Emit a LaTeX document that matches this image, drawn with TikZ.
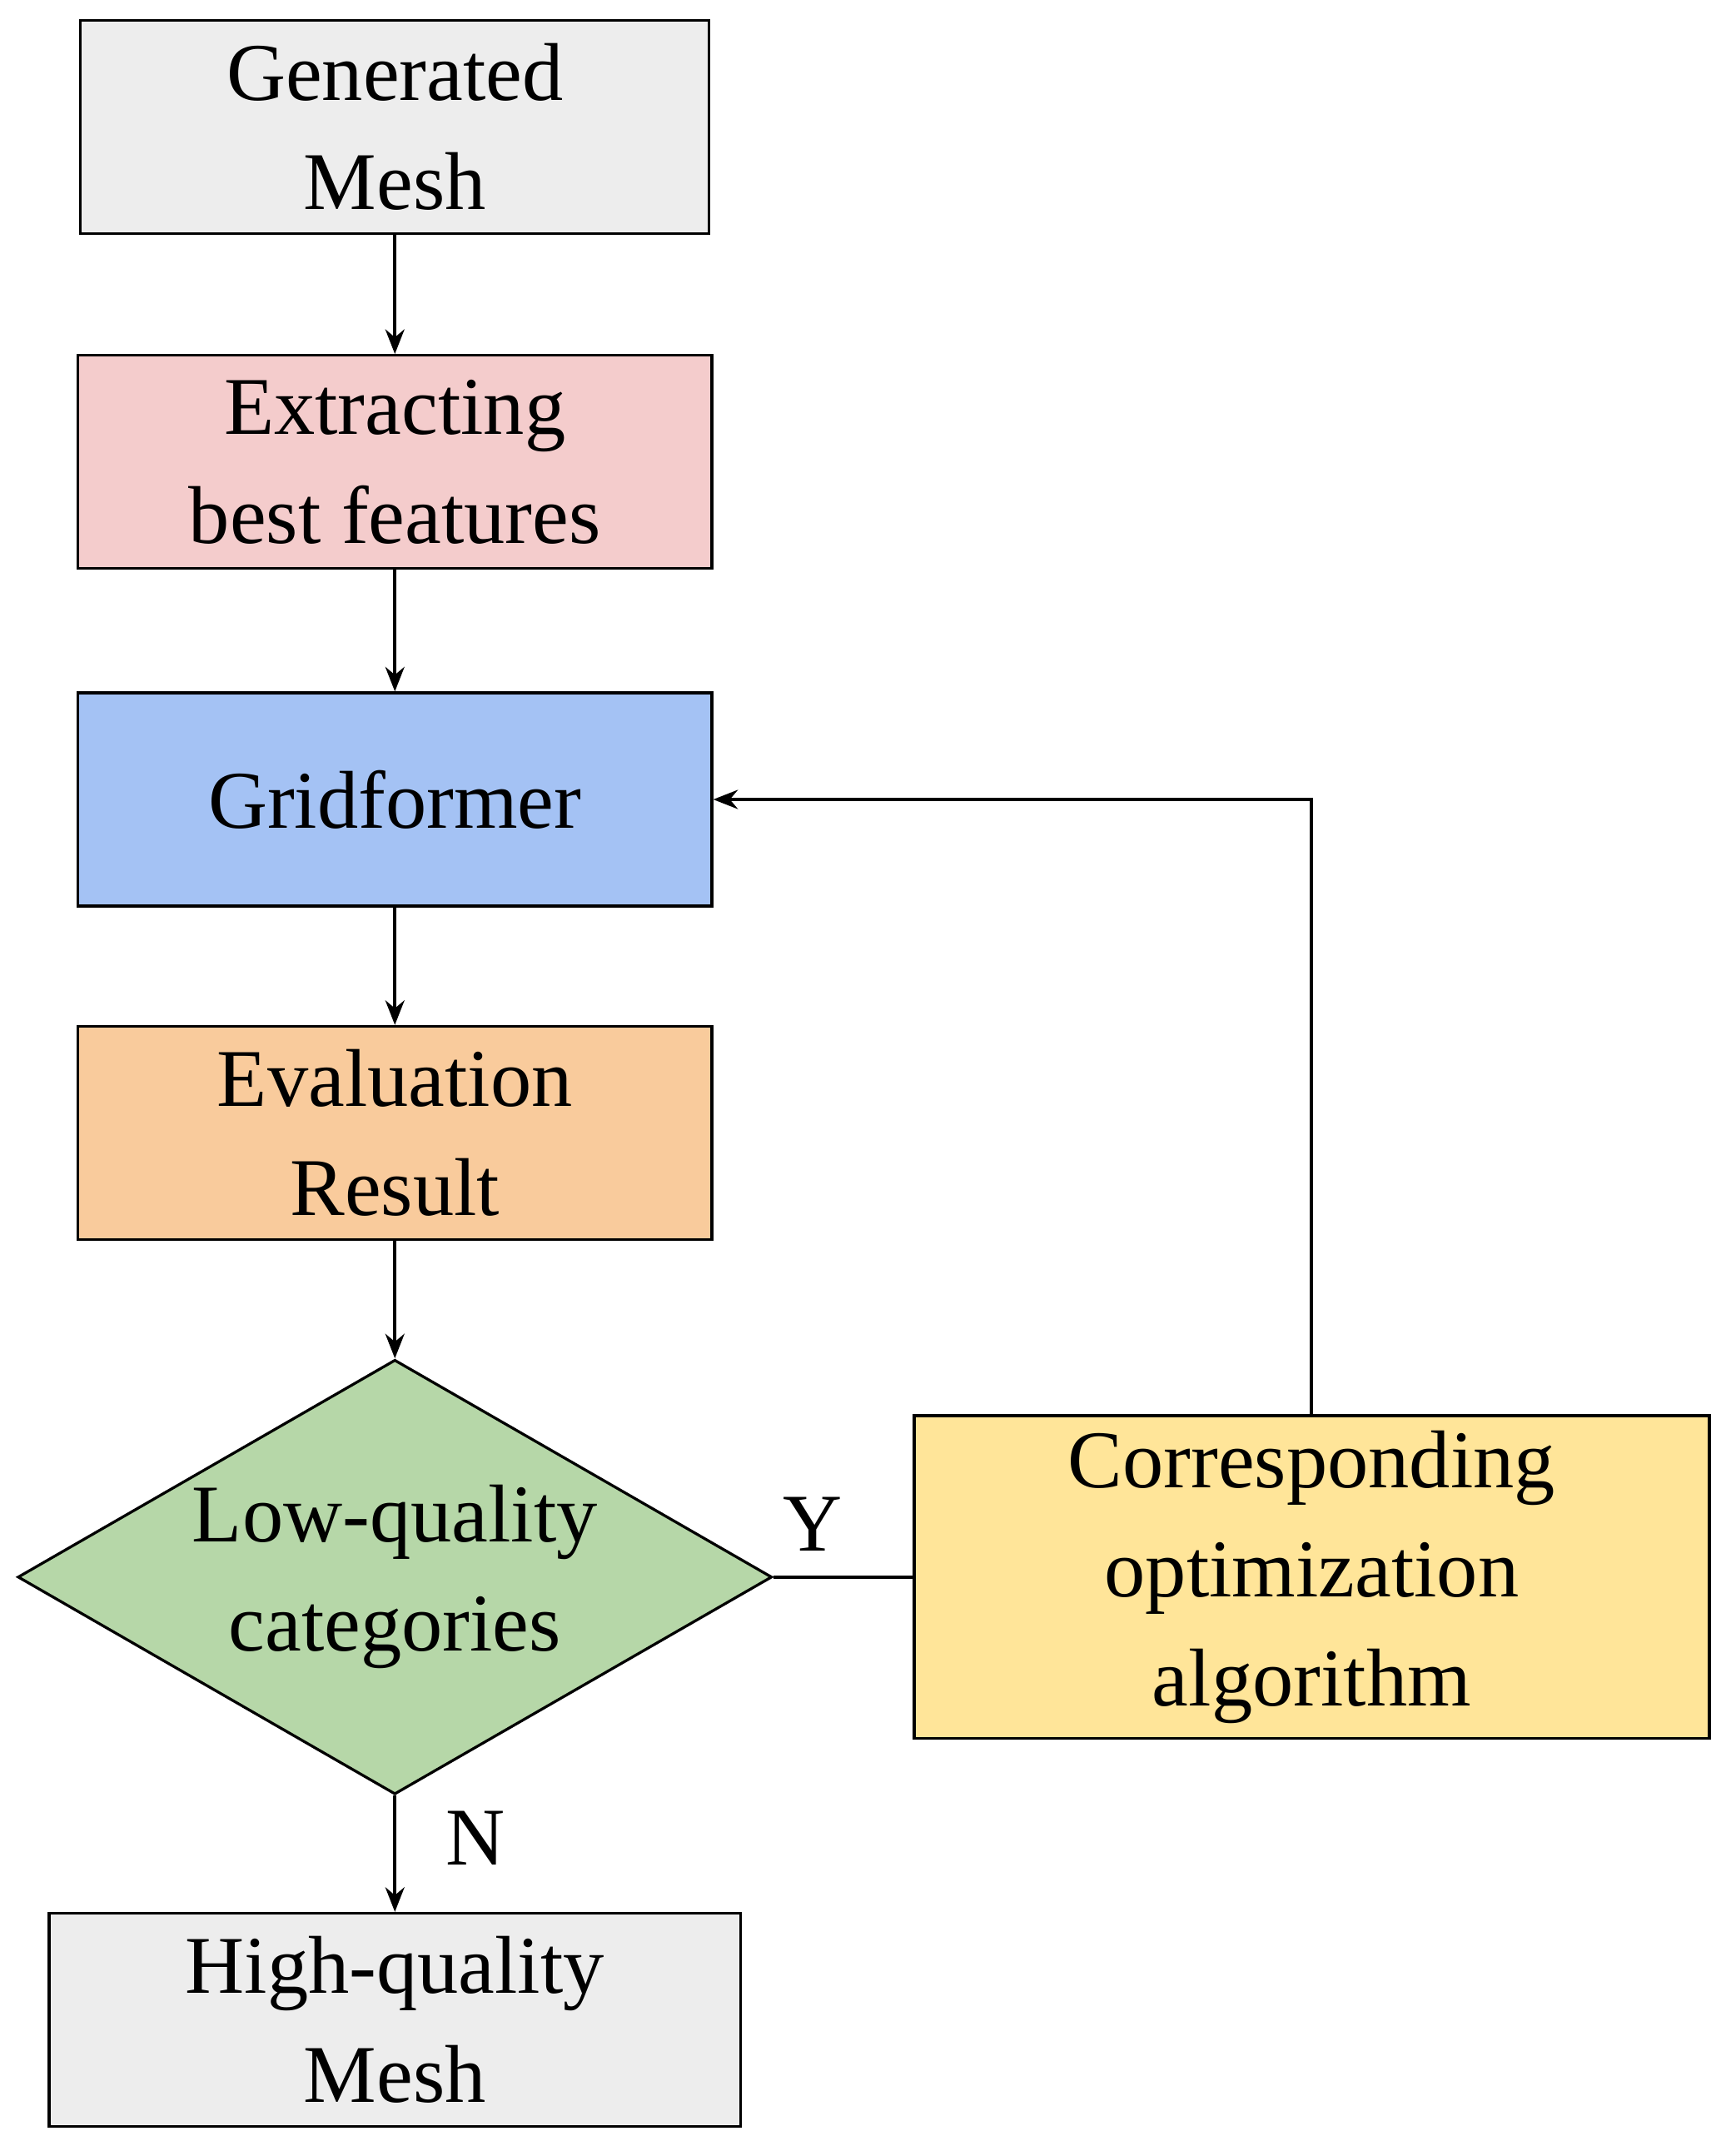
\documentclass[tikz,border=0pt]{standalone}
\usepackage{fontspec}
\setmainfont{Liberation Serif}
\usetikzlibrary{arrows.meta,shapes.geometric}
\begin{document}
\begin{tikzpicture}[x=0.5pt,y=-0.5pt,
 box/.style={draw,line width=1pt,minimum height=78pt,align=center,inner sep=0pt,font=\fontsize{30}{40}\selectfont},
 arr/.style={line width=1.2pt,-{Stealth[length=9pt,width=7pt]}},
 lbl/.style={font=\fontsize{30}{36}\selectfont}]
\useasboundingbox (0,0) rectangle (1270,1574);
\definecolor{cg}{HTML}{EDEDED}\definecolor{cp}{HTML}{F4CCCC}\definecolor{cb}{HTML}{A4C2F4}
\definecolor{co}{HTML}{F9CB9C}\definecolor{cgr}{HTML}{B6D7A8}\definecolor{cy}{HTML}{FFE599}
\node[box,fill=cg,minimum width=230pt] (gen) at (289,93) {Generated\\Mesh};
\node[box,fill=cp,minimum width=232pt] (ext) at (289,338) {Extracting\\best features};
\node[box,fill=cb,minimum width=232pt] (grid) at (289,585) {Gridformer};
\node[box,fill=co,minimum width=232pt] (eval) at (289,829) {Evaluation\\Result};
\node[draw,line width=1pt,fill=cgr,diamond,aspect=1.736,minimum width=276pt,minimum height=159pt,inner sep=0pt,align=center,font=\fontsize{30}{40}\selectfont] (dia) at (289,1154) {Low-quality\\categories};
\node[box,fill=cg,minimum width=253pt] (high) at (289,1478) {High-quality\\Mesh};
\node[box,fill=cy,minimum width=291pt,minimum height=118pt] (cor) at (960,1154) {Corresponding\\optimization\\algorithm};
\draw[arr] (gen) -- (ext);
\draw[arr] (ext) -- (grid);
\draw[arr] (grid) -- (eval);
\draw[arr] (eval) -- (dia);
\draw[arr] (dia) -- (high);
\draw[line width=1.2pt] (dia.east) -- (cor.west);
\draw[arr] (cor.north) |- (grid.east);
\node[lbl] (y) at (595,1115) {Y};
\node[lbl] (n) at (348,1345) {N};
\end{tikzpicture}
\end{document}
